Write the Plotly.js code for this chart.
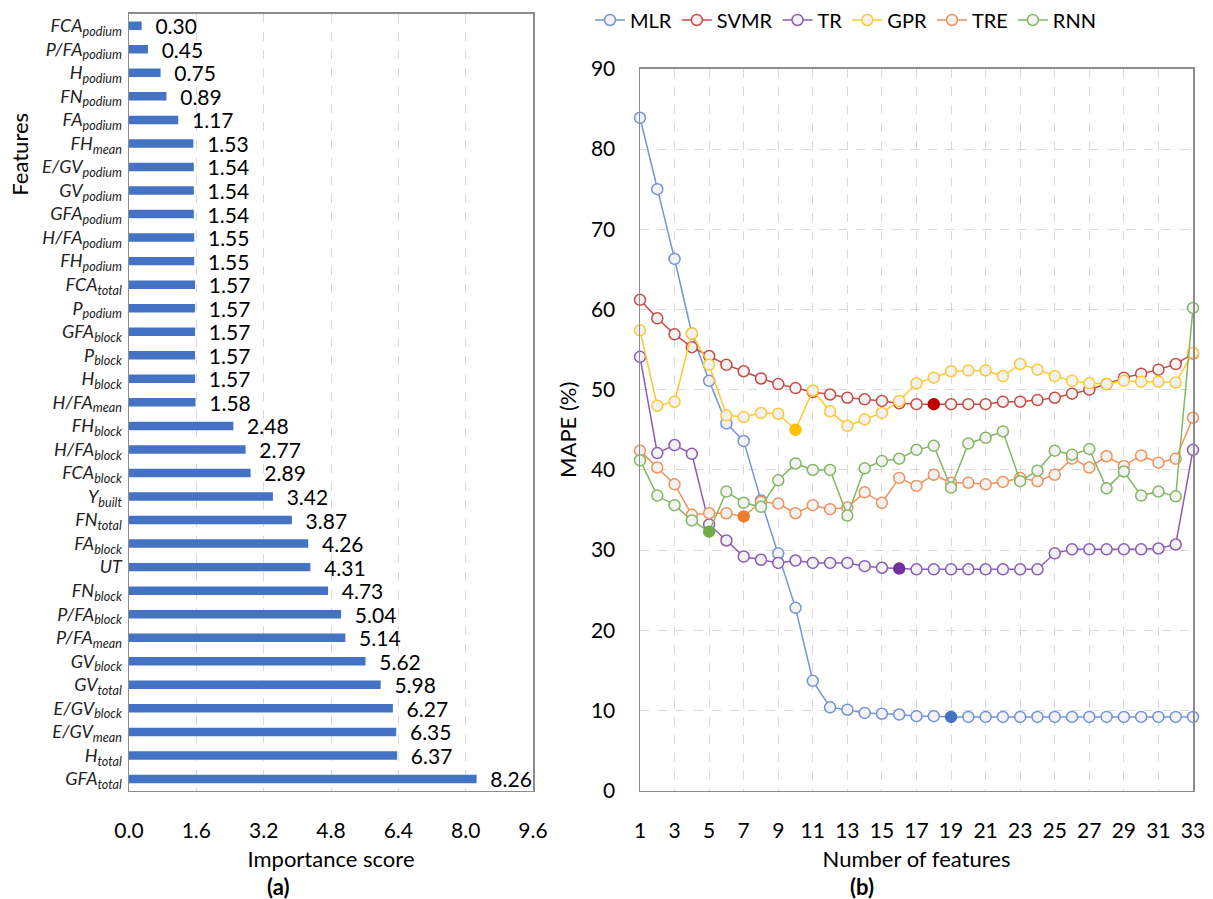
<!DOCTYPE html>
<html>
<head>
<meta charset="utf-8">
<script src="https://cdn.plot.ly/plotly-3.0.1.min.js"></script>
<style>
html,body{margin:0;padding:0;background:#fff;}
#chart{width:1213px;height:899px;}
</style>
</head>
<body>
<div id="chart"></div>
<script>
// ---------- Panel (a): feature importance ----------
const featureMain = ["FCA","P/FA","H","FN","FA","FH","E/GV","GV","GFA","H/FA","FH","FCA","P","GFA","P","H","H/FA","FH","H/FA","FCA","Y","FN","FA","UT","FN","P/FA","P/FA","GV","GV","E/GV","E/GV","H","GFA"];
const featureSub  = ["podium","podium","podium","podium","podium","mean","podium","podium","podium","podium","podium","total","podium","block","block","block","mean","block","block","block","built","total","block","","block","block","mean","block","total","block","mean","total","total"];
const importance  = [0.30,0.45,0.75,0.89,1.17,1.53,1.54,1.54,1.54,1.55,1.55,1.57,1.57,1.57,1.57,1.57,1.58,2.48,2.77,2.89,3.42,3.87,4.26,4.31,4.73,5.04,5.14,5.62,5.98,6.27,6.35,6.37,8.26];
const importanceTicks = [0,1.6,3.2,4.8,6.4,8.0,9.6];

// ---------- Panel (b): MAPE vs number of features ----------
const nFeatures = Array.from({length:33},(_,i)=>i+1);
const mapeMLR  = [83.9,75.0,66.3,57.0,51.1,45.8,43.6,36.2,29.6,22.8,13.7,10.4,10.1,9.7,9.6,9.5,9.3,9.3,9.2,9.2,9.2,9.2,9.2,9.2,9.2,9.2,9.2,9.2,9.2,9.2,9.2,9.2,9.2];
const mapeSVMR = [61.2,58.9,56.9,55.3,54.2,53.1,52.3,51.4,50.7,50.2,49.7,49.4,49.0,48.8,48.6,48.3,48.2,48.2,48.2,48.2,48.2,48.5,48.5,48.7,49.0,49.5,50.0,50.7,51.5,52.0,52.5,53.2,54.5];
const mapeTR   = [54.1,42.1,43.1,42.0,33.2,31.2,29.2,28.8,28.4,28.7,28.4,28.4,28.4,28.0,27.8,27.7,27.6,27.6,27.6,27.6,27.6,27.6,27.6,27.6,29.6,30.1,30.1,30.1,30.1,30.1,30.2,30.7,42.5];
const mapeGPR  = [57.4,48.0,48.5,57.0,53.1,46.8,46.6,47.1,47.0,45.0,49.9,47.3,45.5,46.3,47.1,48.6,50.8,51.5,52.3,52.4,52.4,51.7,53.2,52.5,51.7,51.1,50.8,50.7,51.1,51.0,51.0,50.9,54.6];
const mapeTRE  = [42.4,40.3,38.2,34.4,34.6,34.6,34.2,36.0,35.8,34.6,35.6,35.1,35.3,37.2,35.9,39.0,38.0,39.4,38.4,38.4,38.2,38.5,39.0,38.6,39.4,41.4,40.3,41.7,40.5,41.8,40.9,41.4,46.5];
const mapeRNN  = [41.2,36.8,35.6,33.7,32.3,37.3,35.9,35.4,38.7,40.8,40.0,40.0,34.3,40.2,41.1,41.4,42.5,43.0,37.8,43.3,44.0,44.8,38.6,39.9,42.4,41.9,42.6,37.7,39.8,36.8,37.3,36.7,60.2];
const modelNames = ["MLR","SVMR","TR","GPR","TRE","RNN"];
const bestN      = [19,18,16,10,7,5];   // optimum number of features (filled marker)
const mapeTicks  = [0,10,20,30,40,50,60,70,80,90];
const featureTicks = [1,3,5,7,9,11,13,15,17,19,21,23,25,27,29,31,33];

// styles
const lineColors = ["#7494d6","#c94a48","#8a5cb8","#ffc733","#f1925a","#82b863"];
const fillColors = ["#4472c4","#c00000","#7030a0","#ffc000","#ed7d31","#70ad47"];
const FONT = 'Lato, "Open Sans", "Liberation Sans", sans-serif';

const catIds = featureMain.map((m,i)=>m+"_"+featureSub[i]+"_"+i);
const catText = featureMain.map((m,i)=>"<i>"+m+(featureSub[i]?"<sub>"+featureSub[i]+"</sub>":"")+"</i>");

const traces = [];
traces.push({
  type:"bar", orientation:"h",
  x: importance, y: catIds,
  xaxis:"x", yaxis:"y",
  marker:{color:"#4472c4"},
  text: importance.map(v=>v.toFixed(2)),
  texttemplate:"\u00a0\u00a0%{text}",
  textposition:"outside",
  constraintext:"none",
  cliponaxis:false,
  textfont:{family:FONT,size:21,color:"#000"},
  showlegend:false,
  hoverinfo:"x+y"
});

const series = [mapeMLR,mapeSVMR,mapeTR,mapeGPR,mapeTRE,mapeRNN];
series.forEach((vals,k)=>{
  traces.push({
    type:"scatter", mode:"lines+markers",
    name: modelNames[k],
    x: nFeatures, y: vals,
    xaxis:"x2", yaxis:"y2",
    line:{color:lineColors[k], width:1.5},
    marker:{
      symbol:"circle", size:11,
      color: nFeatures.map(n=> n===bestN[k] ? fillColors[k] : "#f2f2f2"),
      line:{width:1.5, color: nFeatures.map(n=> n===bestN[k] ? fillColors[k] : lineColors[k])}
    },
    cliponaxis:false
  });
});

const W=1213, H=899;
const px = v=>v/W, py = v=>1-v/H;

const layout = {
  width:W, height:H,
  margin:{l:0,r:0,t:0,b:0},
  paper_bgcolor:"#fff", plot_bgcolor:"#fff",
  font:{family:FONT,size:20,color:"#000"},
  bargap:0.64,
  xaxis:{
    domain:[px(129),px(533)], anchor:"y",
    range:[0,9.6], tickvals:importanceTicks, tickformat:".1f",
    showgrid:true, gridcolor:"#d9d9d9", griddash:"dash", gridwidth:1,
    zeroline:false,
    showline:true, mirror:true, linecolor:"#8c8c8c", linewidth:1.5,
    ticks:"", ticklabelstandoff:21,
    tickfont:{family:FONT,size:21,color:"#000"},
    title:{text:"Importance score", font:{family:FONT,size:22,color:"#000"}, standoff:10}
  },
  yaxis:{
    domain:[py(790.5),py(12)], anchor:"x",
    type:"category", categoryorder:"array", categoryarray:catIds,
    range:[32.5,-0.5],
    tickvals:catIds, ticktext:catText,
    showgrid:false, zeroline:false,
    showline:true, mirror:true, linecolor:"#8c8c8c", linewidth:1.5,
    ticks:"", ticklabelstandoff:2,
    tickfont:{family:FONT,size:18,color:"#222"}
  },
  xaxis2:{
    domain:[px(640),px(1193)], anchor:"y2",
    range:[1,33], tickvals:featureTicks,
    showgrid:true, gridcolor:"#d9d9d9", griddash:"dash", gridwidth:1,
    zeroline:false,
    showline:true, mirror:true, linecolor:"#8c8c8c", linewidth:1.5,
    ticks:"", ticklabelstandoff:21,
    tickfont:{family:FONT,size:21,color:"#000"},
    title:{text:"Number of features", font:{family:FONT,size:22,color:"#000"}, standoff:10}
  },
  yaxis2:{
    domain:[py(790.5),py(67)], anchor:"x2",
    range:[0,90], tickvals:mapeTicks,
    showgrid:true, gridcolor:"#d9d9d9", griddash:"dash", gridwidth:1,
    zeroline:false,
    showline:true, mirror:true, linecolor:"#8c8c8c", linewidth:1.5,
    ticks:"", ticklabelstandoff:19,
    tickfont:{family:FONT,size:21,color:"#000"},
    title:{text:"MAPE (%)", font:{family:FONT,size:22,color:"#000"}, standoff:8}
  },
  legend:{
    orientation:"h", x:px(590), y:py(18), xanchor:"left", yanchor:"middle",
    font:{family:FONT,size:20,color:"#000"},
    itemwidth:30, tracegroupgap:0, bgcolor:"rgba(0,0,0,0)"
  },
  annotations:[
    {text:"Features", textangle:-90, xref:"paper", yref:"paper", x:px(20), y:py(153),
     xanchor:"center", yanchor:"middle", showarrow:false, font:{family:FONT,size:22,color:"#000"}},
    {text:"<b>(a)</b>", xref:"paper", yref:"paper", x:px(278), y:py(886),
     xanchor:"center", yanchor:"middle", showarrow:false, font:{family:FONT,size:22,color:"#000"}},
    {text:"<b>(b)</b>", xref:"paper", yref:"paper", x:px(862), y:py(886),
     xanchor:"center", yanchor:"middle", showarrow:false, font:{family:FONT,size:22,color:"#000"}}
  ]
};

Plotly.newPlot("chart", traces, layout, {staticPlot:true, displayModeBar:false});
</script>
</body>
</html>
